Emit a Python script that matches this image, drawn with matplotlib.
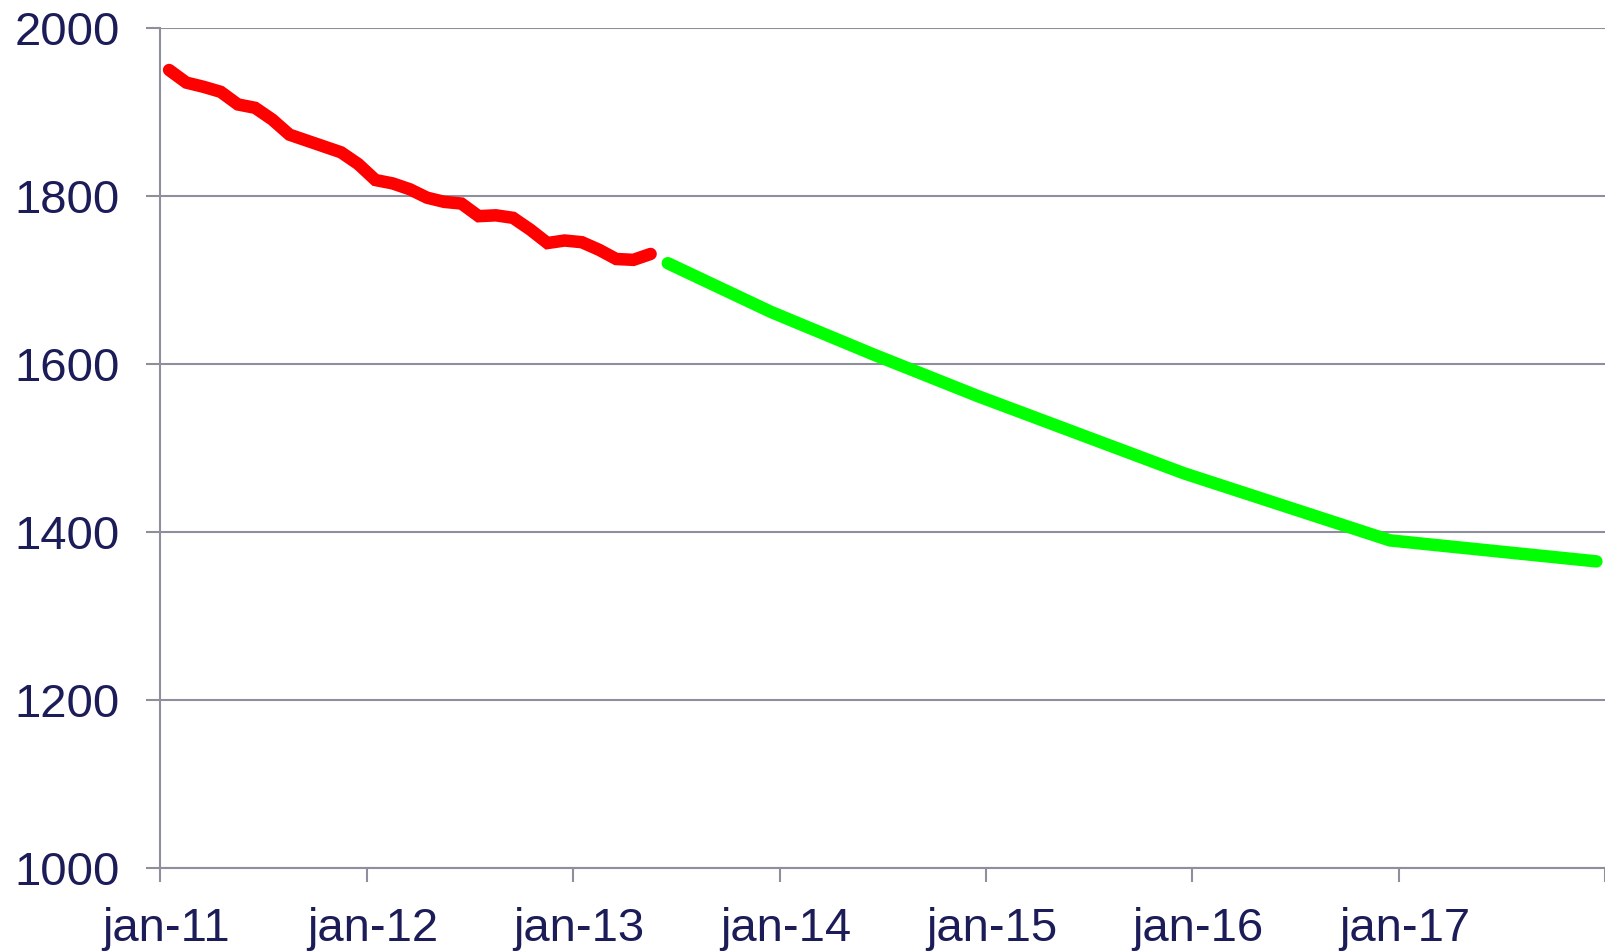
import matplotlib
matplotlib.use('Agg')
import matplotlib.pyplot as plt
import matplotlib.transforms as mtransforms
import pandas as pd

# Monthly actuals (red), starting Jan 2011
red_start = '2011-01'
red_values = [1950, 1935, 1930, 1924, 1909, 1905, 1891, 1873, 1866, 1859, 1852, 1838,
              1819, 1815, 1808, 1798, 1793, 1791, 1776, 1777, 1774, 1760, 1744, 1747,
              1745, 1736, 1725, 1724, 1731]

# Forecast (green) anchor months and values
green_months = ['2013-06', '2013-12', '2014-06', '2014-12', '2015-12', '2016-12', '2017-12']
green_values = [1720, 1662, 1611, 1562, 1470, 1390, 1365]

tick_labels = ['jan-11', 'jan-12', 'jan-13', 'jan-14', 'jan-15', 'jan-16', 'jan-17', '']
y_ticks = [1000, 1200, 1400, 1600, 1800, 2000]

base = pd.Period('2011-01', 'M')
r0 = (pd.Period(red_start, 'M') - base).n
red_x = [r0 + i + 0.5 for i in range(len(red_values))]
green_x = [(pd.Period(m, 'M') - base).n + 0.5 for m in green_months]

W, H = 1606, 951
fig = plt.figure(figsize=(W / 100, H / 100), dpi=100)
ax = fig.add_axes([160.5 / W, 1 - 868 / H, (1605 - 160.5) / W, (868 - 28) / H])

grid_c = '#8e8e9c'
text_c = '#1c1c58'

ax.set_xlim(0, 84)
ax.set_ylim(1000, 2000)
ax.set_yticks(y_ticks)
ax.set_xticks(range(0, 85, 12))
ax.set_xticklabels(tick_labels)

ax.yaxis.grid(True, color=grid_c, linewidth=1.5)
ax.set_axisbelow(True)
for s in ['top', 'right']:
    ax.spines[s].set_visible(False)
for s in ['left', 'bottom']:
    ax.spines[s].set_color(grid_c)
    ax.spines[s].set_linewidth(1.5)

ax.tick_params(axis='both', direction='out', color=grid_c, width=1.5, length=10,
               labelsize=34, labelcolor=text_c)
ax.tick_params(axis='y', pad=19.5)
ax.tick_params(axis='x', pad=18)
for lab in ax.get_xticklabels() + ax.get_yticklabels():
    lab.set_fontfamily('Liberation Sans')
offset = mtransforms.ScaledTranslation(6 / 100, 0, fig.dpi_scale_trans)
for lab in ax.get_xticklabels():
    lab.set_transform(lab.get_transform() + offset)

ax.plot(red_x, red_values, color='#ff0000', linewidth=9, solid_capstyle='round',
        solid_joinstyle='miter', clip_on=False)
ax.plot(green_x, green_values, color='#00ff00', linewidth=9, solid_capstyle='round',
        solid_joinstyle='miter', clip_on=False)

fig.savefig('out.png', dpi=100)
